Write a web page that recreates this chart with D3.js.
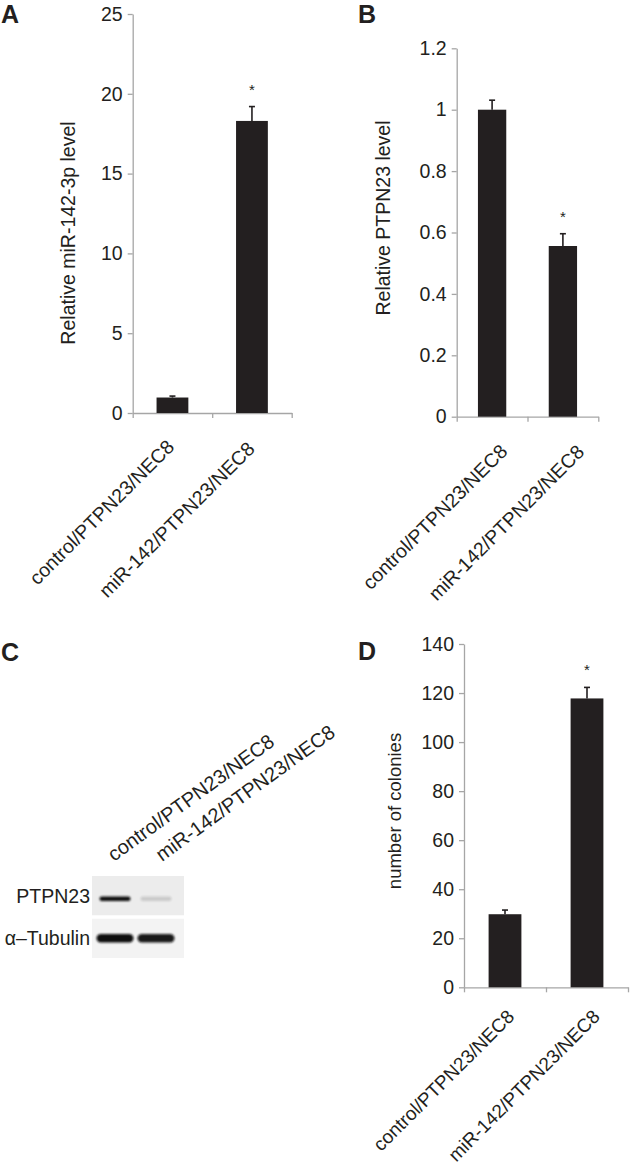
<!DOCTYPE html>
<html>
<head>
<meta charset="utf-8">
<script src="https://cdn.jsdelivr.net/npm/d3@7"></script>
<style>
  html, body { margin: 0; padding: 0; background: #fff; }
  svg { display: block; }
  text { font-family: "Liberation Sans", Arial, sans-serif; fill: #231f20; }
</style>
</head>
<body>
<svg id="chart" width="633" height="1166"></svg>
<script>
// ---------------- data ----------------
const categories = ["control/PTPN23/NEC8", "miR-142/PTPN23/NEC8"];
const significant = [false, true];

const mirLevel = [0.97, 18.3];
const mirError = [0.09, 0.9];
const mirTicks = [0, 5, 10, 15, 20, 25];

const ptpnLevel = [1.0, 0.556];
const ptpnError = [0.031, 0.04];
const ptpnTicks = [0, 0.2, 0.4, 0.6, 0.8, 1, 1.2];

const colonyCount = [29.8, 117.8];
const colonyError = [1.7, 4.5];
const colonyTicks = [0, 20, 40, 60, 80, 100, 120, 140];

const blotRows = ["PTPN23", "α–Tubulin"];
const ptpnBand = [1.0, 0.12];
const tubulinBand = [1.0, 0.95];

// ---------------- drawing ----------------
const svg = d3.select("#chart");
const INK = "#231f20";
const AXIS = "#a6a6a6";
const FONT = "19.5px";

const defs = svg.append("defs");
defs.append("filter").attr("id", "blur").attr("x", "-20%").attr("y", "-100%")
  .attr("width", "140%").attr("height", "300%")
  .append("feGaussianBlur").attr("stdDeviation", 0.9);

function panelLetter(t, x, y) {
  svg.append("text").attr("x", x).attr("y", y)
    .style("font-size", "25px").style("font-weight", "bold").text(t);
}

function barPanel(cfg) {
  const g = svg.append("g");
  const y = d3.scaleLinear().domain(cfg.domain).range([cfg.y0, cfg.y1]);
  const x = d3.scaleBand().domain(categories).range([cfg.x0, cfg.x1])
    .paddingInner(0.6).paddingOuter(0.3);

  // y axis
  const ya = g.append("g").attr("transform", `translate(${cfg.x0},0)`)
    .call(d3.axisLeft(y).tickValues(cfg.ticks).tickSize(5).tickSizeOuter(0)
      .tickPadding(5).tickFormat(d => String(d)));
  ya.select(".domain").attr("stroke", AXIS).attr("stroke-width", 1.3);
  ya.selectAll(".tick line").attr("stroke", AXIS).attr("stroke-width", 1.3);
  ya.selectAll(".tick text").style("font-size", FONT)
    .style("font-family", '"Liberation Sans", Arial, sans-serif').attr("fill", INK);

  // x axis (category boundaries)
  const xb = d3.scaleLinear().domain([0, categories.length]).range([cfg.x0, cfg.x1]);
  const xa = g.append("g").attr("transform", `translate(0,${cfg.y0})`)
    .call(d3.axisBottom(xb).tickValues(d3.range(categories.length + 1))
      .tickFormat("").tickSize(5).tickSizeOuter(0));
  xa.select(".domain").attr("stroke", AXIS).attr("stroke-width", 1.3);
  xa.selectAll(".tick line").attr("stroke", AXIS).attr("stroke-width", 1.3);

  // bars
  g.selectAll("rect.bar").data(cfg.values).join("rect").attr("class", "bar")
    .attr("x", (d, i) => x(categories[i]))
    .attr("width", x.bandwidth())
    .attr("y", d => y(d))
    .attr("height", d => y(0) - y(d))
    .attr("fill", INK);

  // error bars (upper only)
  const capW = 6;
  cfg.values.forEach((v, i) => {
    const cx = x(categories[i]) + x.bandwidth() / 2;
    const top = y(v + cfg.errors[i]);
    g.append("line").attr("x1", cx).attr("x2", cx).attr("y1", y(v)).attr("y2", top)
      .attr("stroke", INK).attr("stroke-width", 1.6);
    g.append("line").attr("x1", cx - capW / 2).attr("x2", cx + capW / 2)
      .attr("y1", top).attr("y2", top).attr("stroke", INK).attr("stroke-width", 1.6);
    if (significant[i]) {
      g.append("text").attr("x", cx).attr("y", top - 12)
        .attr("text-anchor", "middle").style("font-size", "15px").text("*");
    }
  });

  // category labels rotated -45
  categories.forEach((c, i) => {
    const cx = x(c) + x.bandwidth() / 2 + cfg.labelDx[i];
    const cy = cfg.y0 + cfg.labelDy[i];
    g.append("text").attr("transform", `translate(${cx},${cy}) rotate(-45)`)
      .attr("text-anchor", "end").style("font-size", cfg.labelFont || FONT).text(c);
  });

  // y title
  g.append("text").attr("transform", `translate(${cfg.titleX},${cfg.titleY}) rotate(-90)`)
    .attr("text-anchor", "middle").style("font-size", cfg.titleFont || FONT).text(cfg.title);
}

// Panel A
panelLetter("A", 1, 23);
barPanel({
  domain: [0, 25], ticks: mirTicks, values: mirLevel, errors: mirError,
  x0: 132.7, x1: 291.7, y0: 413, y1: 14,
  labelDx: [3, 4], labelDy: [35, 37],
  title: "Relative miR-142-3p level", titleX: 75, titleY: 233
});

// Panel B
panelLetter("B", 358, 23);
barPanel({
  domain: [0, 1.2], ticks: ptpnTicks, values: ptpnLevel, errors: ptpnError,
  x0: 456.7, x1: 598.3, y0: 416.7, y1: 48.3,
  labelDx: [16.5, 22.5], labelDy: [36, 36.5],
  title: "Relative PTPN23 level", titleX: 389.5, titleY: 218
});

// Panel D
panelLetter("D", 358, 660);
barPanel({
  domain: [0, 140], ticks: colonyTicks, values: colonyCount, errors: colonyError,
  x0: 464, x1: 628, y0: 987.3, y1: 644,
  labelDx: [10.5, 14], labelDy: [30.5, 30.5], labelFont: "19px",
  title: "number of colonies", titleX: 401, titleY: 811, titleFont: "18.5px"
});

// Panel C : western blot
panelLetter("C", 1, 661);
const lane = d3.scaleBand().domain(categories).range([90, 181])
  .paddingInner(0.1).paddingOuter(0.16);
const blotY = d3.scaleBand().domain(blotRows).range([876, 958]).paddingInner(0.08);
const gc = svg.append("g");

// lane labels
const laneLabelDx = [-1, 6];
categories.forEach((c, i) => {
  const cx = lane(c) + lane.bandwidth() / 2 + laneLabelDx[i];
  gc.append("text").attr("transform", `translate(${cx},862) rotate(-36)`)
    .attr("text-anchor", "start").style("font-size", "20px").text(c);
});

// membranes
const membraneFill = ["#ececec", "#f3f3f3"];
blotRows.forEach((r, ri) => {
  gc.append("rect").attr("x", 92).attr("width", 92)
    .attr("y", blotY(r)).attr("height", blotY.bandwidth())
    .attr("fill", membraneFill[ri]);
  gc.append("text").attr("x", 90).attr("y", blotY(r) + blotY.bandwidth() / 2 + 7)
    .attr("text-anchor", "end").style("font-size", FONT).text(r);
});

// bands
const bandSets = [
  { row: blotRows[0], vals: ptpnBand, h: 4.5, wFrac: 0.84 },
  { row: blotRows[1], vals: tubulinBand, h: 8.5, wFrac: 1.0 }
];
bandSets.forEach(s => {
  s.vals.forEach((v, i) => {
    const w = lane.bandwidth() * s.wFrac;
    const cx = lane(categories[i]) + lane.bandwidth() / 2;
    const cy = blotY(s.row) + blotY.bandwidth() / 2 + (s.row === blotRows[0] ? 3 : 0);
    gc.append("rect").attr("x", cx - w / 2).attr("width", w)
      .attr("y", cy - s.h / 2).attr("height", s.h)
      .attr("rx", s.h / 2).attr("ry", s.h / 2)
      .attr("fill", "#111").attr("opacity", Math.max(0.15, v))
      .attr("filter", "url(#blur)");
  });
});
</script>
</body>
</html>
